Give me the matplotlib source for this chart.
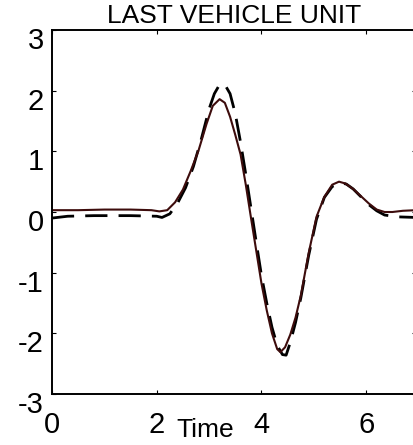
import matplotlib
matplotlib.use("Agg")
from matplotlib import pyplot as plt
from matplotlib.transforms import ScaledTranslation
import numpy as np

plt.rcParams['font.family'] = ['Liberation Sans', 'DejaVu Sans']
plt.rcParams['axes.unicode_minus'] = False

# solid (model) curve
t_model = [0.0, 0.5, 1.0, 1.5, 1.9, 2.05, 2.2, 2.35, 2.5, 2.65, 2.8, 2.95,
           3.07, 3.2, 3.3, 3.4, 3.5, 3.6, 3.7, 3.8, 3.9, 4.0, 4.1, 4.2,
           4.3, 4.36, 4.45, 4.55, 4.65, 4.75, 4.9, 5.05, 5.2, 5.35, 5.48,
           5.6, 5.75, 5.9, 6.05, 6.2, 6.35, 6.5, 6.7, 6.95]
y_model = [0.03, 0.03, 0.04, 0.04, 0.03, 0.01, 0.03, 0.16, 0.37, 0.68, 1.02, 1.45,
           1.75, 1.86, 1.80, 1.57, 1.27, 0.95, 0.45, -0.10, -0.64, -1.18, -1.62, -2.0,
           -2.26, -2.31, -2.23, -2.02, -1.74, -1.38, -0.68, -0.08, 0.25, 0.45, 0.50,
           0.47, 0.38, 0.26, 0.14, 0.04, 0.0, 0.0, 0.02, 0.03]

# dashed (measured) curve
t_meas = [0.0, 0.3, 0.8, 1.5, 2.0, 2.1, 2.25, 2.4, 2.55, 2.7, 2.85, 3.0,
          3.1, 3.2, 3.3, 3.4, 3.5, 3.6, 3.7, 3.8, 3.9, 4.0, 4.1, 4.2,
          4.3, 4.4, 4.47, 4.55, 4.65, 4.75, 4.9, 5.05, 5.2, 5.35, 5.52,
          5.62, 5.75, 5.9, 6.05, 6.2, 6.35, 6.6, 6.95]
y_meas = [-0.10, -0.07, -0.06, -0.06, -0.07, -0.09, -0.03, 0.15, 0.40, 0.75, 1.2, 1.7,
          1.95, 2.1, 2.1, 1.95, 1.62, 1.15, 0.62, 0.06, -0.5, -1.05, -1.5, -1.9,
          -2.2, -2.35, -2.36, -2.15, -1.82, -1.42, -0.72, -0.12, 0.24, 0.42, 0.48,
          0.46, 0.38, 0.25, 0.12, 0.02, -0.05, -0.08, -0.09]

x_ticks = [0, 2, 4, 6]
y_ticks = [-3, -2, -1, 0, 1, 2, 3]

fig = plt.figure(figsize=(4.14, 4.45), dpi=100)
ax = fig.add_axes([52 / 414, 1 - 394 / 445, 364 / 414, 364 / 445])

ax.plot(t_meas, y_meas, color='black', lw=2.0, dashes=(8, 4))
ax.plot(t_model, y_model, color='#3d0c0c', lw=1.5)

ax.set_xlim(0, 6.95)
ax.set_ylim(-3, 3)
ax.set_xticks(x_ticks)
ax.set_yticks(y_ticks)
ax.tick_params(direction='in', length=3, width=0.8, top=True, right=True,
               labelsize=21)
ax.tick_params(axis='x', pad=12)
ax.tick_params(axis='y', pad=6)
for s in ax.spines.values():
    s.set_linewidth(1.4)

# matlab-style offset of y labels
off = ScaledTranslation(0, -8 / 100, fig.dpi_scale_trans)
for lab in ax.get_yticklabels():
    lab.set_transform(lab.get_transform() + off)

ax.set_title('LAST VEHICLE UNIT', fontsize=19, pad=5)
ax.set_xlabel('Time', fontsize=19)
ax.xaxis.set_label_coords(0.42, -0.066)

fig.savefig('out.png', dpi=100)
